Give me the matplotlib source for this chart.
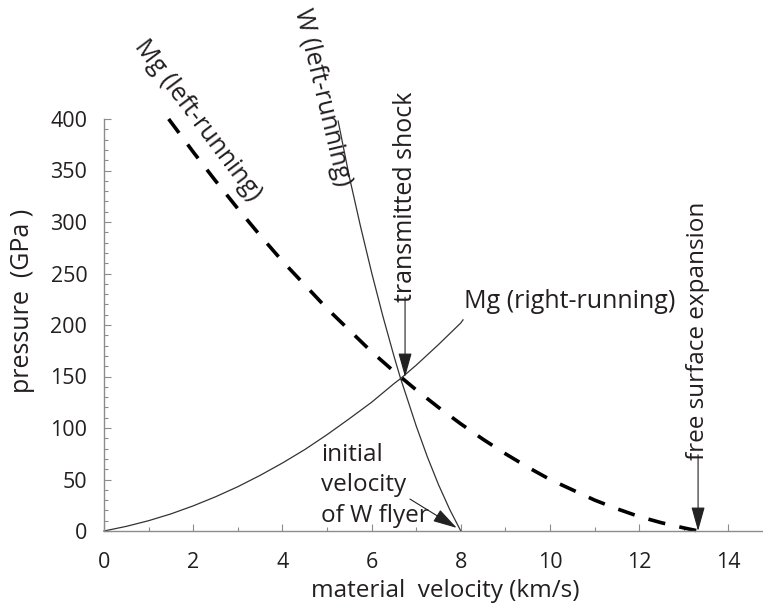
import matplotlib.pyplot as plt
from matplotlib.ticker import MultipleLocator

plt.rcParams['font.family'] = ['Open Sans', 'DejaVu Sans']

# values (velocity km/s, pressure GPa)
mg_right_u = [0, 0.5, 1, 1.5, 2, 2.5, 3, 3.5, 4, 4.5, 5, 5.5, 6, 6.5, 6.65,
              7, 7.5, 8, 8.05]
mg_right_p = [0, 4.5, 10, 16.6, 24.4, 33.2, 43, 54, 66, 79, 93.5, 109, 125,
              143, 148, 161, 181, 202, 205]

w_left_u = [5.25, 5.5, 5.75, 6, 6.25, 6.5, 6.65, 6.75, 7, 7.25, 7.5, 7.75, 8]
w_left_p = [398, 344, 296, 251, 209, 170, 148, 135, 102, 72, 45, 21, 0]

mg_left_u = [1.45, 2, 2.5, 3, 3.5, 4, 4.5, 5, 5.5, 6, 6.5, 7, 7.5, 8, 8.5, 9,
             9.5, 10, 10.5, 11, 11.5, 12, 12.5, 13, 13.33]
mg_left_p = [400, 368, 340, 313, 287, 262, 239, 216, 195, 174, 155, 137, 120,
             104, 89, 75, 62, 50, 40, 30, 21.6, 14, 8, 3, 0]

xticks = [0, 2, 4, 6, 8, 10, 12, 14]
yticks = [0, 50, 100, 150, 200, 250, 300, 350, 400]

txt = '#231f20'
fs = 18
tfs = 15.5

fig = plt.figure(figsize=(7.63, 6.03), dpi=100)
ax = fig.add_axes([104/763, 72/603, 659/763, 412/603])

ax.plot(mg_right_u, mg_right_p, color='#333333', lw=0.9, clip_on=False)
ax.plot(w_left_u, w_left_p, color='#333333', lw=0.9, clip_on=False)
ax.plot(mg_left_u, mg_left_p, color='black', lw=2.6, dashes=(4.8, 4.0),
        clip_on=False)

ax.set_xlim(0, 659/44.6)
ax.set_ylim(0, 400)
ax.set_xticks(xticks)
ax.set_yticks(yticks)
ax.xaxis.set_minor_locator(MultipleLocator(1))
ax.yaxis.set_minor_locator(MultipleLocator(10))
ax.tick_params(which='both', direction='in', color='#8c8c8c', width=0.8)
ax.tick_params(which='major', length=5, labelsize=tfs, labelcolor=txt)
ax.tick_params(which='minor', length=3)
ax.tick_params(axis='y', pad=12)
ax.tick_params(axis='x', pad=15)
for s in ['top', 'right']:
    ax.spines[s].set_visible(False)
for s in ['left', 'bottom']:
    ax.spines[s].set_color('#8c8c8c')
    ax.spines[s].set_linewidth(1.0)

fig.text(445/763, 1 - 597/603, 'material  velocity (km/s)', fontsize=17.5,
         color=txt, ha='center', va='baseline')
fig.text(23/763, 1 - 301/603, 'pressure  (GPa )', fontsize=fs, color=txt,
         ha='center', va='center', rotation=90)

# curve labels
ax.text(2.09, 399, 'Mg (left-running)', rotation=-53, fontsize=fs, color=txt,
        ha='center', va='center', rotation_mode='anchor', clip_on=False)
ax.text(4.89, 421, 'W (left-running)', rotation=-76.5, fontsize=fs, color=txt,
        ha='center', va='center', rotation_mode='anchor', clip_on=False)
ax.text(8.08, 223, 'Mg (right-running)', fontsize=fs, color=txt,
        ha='left', va='center')
ax.text(4.86, 44.5, 'initial\nvelocity\nof W flyer', fontsize=17.5,
        color=txt, ha='left', va='center', linespacing=1.36)

# arrows
head = '-|>,head_length=1.5,head_width=0.42'
ax.annotate('', xy=(6.75, 149.5), xytext=(6.75, 227),
            arrowprops=dict(arrowstyle=head, color='#222222', lw=0.8,
                            shrinkA=0, shrinkB=0))
ax.text(6.75, 324, 'transmitted shock', rotation=90, fontsize=fs, color=txt,
        ha='center', va='center')
ax.annotate('', xy=(13.32, 0), xytext=(13.32, 74),
            arrowprops=dict(arrowstyle=head, color='#222222', lw=0.8,
                            shrinkA=0, shrinkB=0))
ax.text(13.32, 194, 'free surface expansion', rotation=90, fontsize=17.5,
        color=txt, ha='center', va='center')
ax.annotate('', xy=(7.91, 3), xytext=(6.86, 31),
            arrowprops=dict(arrowstyle=head, color='#222222', lw=0.8,
                            shrinkA=0, shrinkB=0))

fig.savefig('out.png', dpi=100)
